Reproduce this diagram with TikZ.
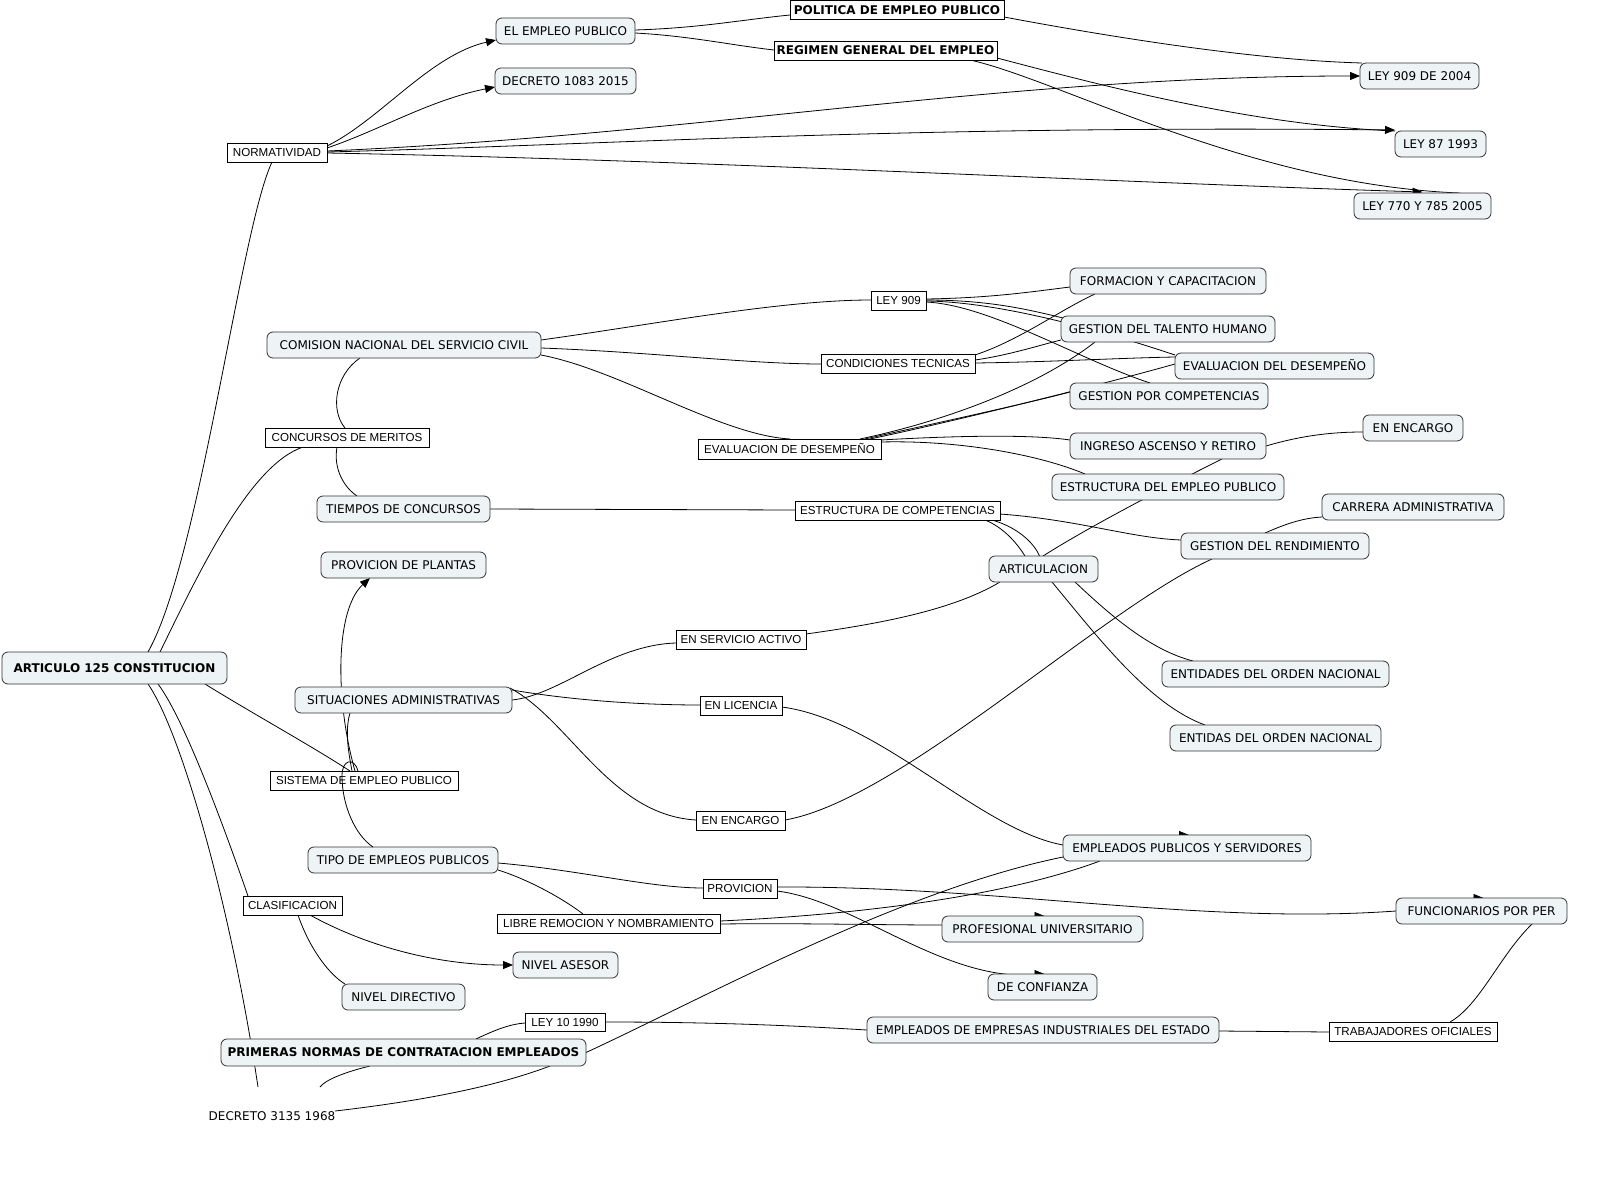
\documentclass[tikz,border=0pt]{standalone}
\usepackage{fontspec}
\setmainfont{DejaVu Sans}
\newfontfamily\lfont{Liberation Sans}
\usetikzlibrary{calc,arrows.meta,backgrounds}
\definecolor{cfill}{HTML}{EEF3F5}
\definecolor{cline}{HTML}{333333}
\tikzset{
 concept/.style={draw=cline, fill=cfill, rounded corners=6pt, line width=0.8pt, minimum height=26pt, inner sep=0pt, outer sep=0pt, font=\fontsize{12}{14}\selectfont, text height=8.75pt, text depth=0pt},
 bconcept/.style={concept, minimum height=32pt, font=\fontsize{12}{14}\selectfont\bfseries},
 link/.style={draw=black, fill=white, line width=0.8pt, minimum height=19pt, inner sep=0pt, outer sep=0pt, font=\lfont\fontsize{11.6}{13}\selectfont, text height=8.3pt, text depth=0pt},
 blink/.style={link, font=\fontsize{12}{14}\selectfont\bfseries, text height=8.75pt},
 conn/.style={draw=black, line width=0.8pt},
 arr/.style={conn, -{Triangle[length=10pt,width=8pt]}},
}
\begin{document}
\begin{tikzpicture}[x=1pt,y=-1pt]
\useasboundingbox (0,0) rectangle (1608,1177);
% concepts
\node[concept, minimum width=139] (emp) at (565.5,31) {EL EMPLEO PUBLICO};
\node[concept, minimum width=141] (dec1083) at (565.5,81) {DECRETO 1083 2015};
\node[concept, minimum width=119] (l9092004) at (1419.5,76) {LEY 909 DE 2004};
\node[concept, minimum width=91] (l87) at (1440.5,144) {LEY 87 1993};
\node[concept, minimum width=137] (l770) at (1422.5,206) {LEY 770 Y 785 2005};
\node[concept, minimum width=274] (com) at (404,345) {COMISION NACIONAL DEL SERVICIO CIVIL};
\node[concept, minimum width=173] (tiem) at (403.5,509) {TIEMPOS DE CONCURSOS};
\node[concept, minimum width=165] (prov) at (403.5,565) {PROVICION DE PLANTAS};
\node[concept, minimum width=196] (form) at (1168,281) {FORMACION Y CAPACITACION};
\node[concept, minimum width=214] (tal) at (1168,329) {GESTION DEL TALENTO HUMANO};
\node[concept, minimum width=199] (evd) at (1274.5,366) {EVALUACION DEL DESEMPEÑO};
\node[concept, minimum width=198] (gpc) at (1169,396) {GESTION POR COMPETENCIAS};
\node[concept, minimum width=196] (ing) at (1168,446) {INGRESO ASCENSO Y RETIRO};
\node[concept, minimum width=100] (enc1) at (1413,428) {EN ENCARGO};
\node[concept, minimum width=232] (eep) at (1168,487) {ESTRUCTURA DEL EMPLEO PUBLICO};
\node[concept, minimum width=182] (car) at (1413,507) {CARRERA ADMINISTRATIVA};
\node[concept, minimum width=188] (ren) at (1275,546) {GESTION DEL RENDIMIENTO};
\node[concept, minimum width=109] (art2) at (1043.5,569) {ARTICULACION};
\node[bconcept, minimum width=225] (art) at (114.5,668) {ARTICULO 125 CONSTITUCION};
\node[concept, minimum width=217] (sit) at (403.5,700) {SITUACIONES ADMINISTRATIVAS};
\node[concept, minimum width=227] (ent1) at (1275.5,674) {ENTIDADES DEL ORDEN NACIONAL};
\node[concept, minimum width=211] (ent2) at (1275.5,738) {ENTIDAS DEL ORDEN NACIONAL};
\node[concept, minimum width=248] (eps) at (1187,848) {EMPLEADOS PUBLICOS Y SERVIDORES};
\node[concept, minimum width=190] (tip) at (403,860) {TIPO DE EMPLEOS PUBLICOS};
\node[concept, minimum width=171] (fun) at (1481.5,911) {FUNCIONARIOS POR PER};
\node[concept, minimum width=201] (pro) at (1042.5,929) {PROFESIONAL UNIVERSITARIO};
\node[concept, minimum width=105] (ase) at (565.5,965) {NIVEL ASESOR};
\node[concept, minimum width=109] (con) at (1042.5,987) {DE CONFIANZA};
\node[concept, minimum width=123] (dir) at (403.5,997) {NIVEL DIRECTIVO};
\node[concept, minimum width=352] (emi) at (1043,1030) {EMPLEADOS DE EMPRESAS INDUSTRIALES DEL ESTADO};
\node[bconcept, minimum width=365, minimum height=27] (pri) at (403.5,1052.5) {PRIMERAS NORMAS DE CONTRATACION EMPLEADOS};
\node[minimum width=140, minimum height=58, inner sep=0pt, font=\fontsize{12}{14}\selectfont, text height=8.75pt, text depth=0pt] (dec3) at (272,1116) {DECRETO 3135 1968};
% linking phrases
\node[blink, minimum width=214] (pol) at (897,10) {POLITICA DE EMPLEO PUBLICO};
\node[blink, minimum width=223] (reg) at (885.5,50.5) {REGIMEN GENERAL DEL EMPLEO};
\node[link, minimum width=100] (norm) at (277,152.5) {NORMATIVIDAD};
\node[link, minimum width=55] (l909) at (898.5,300.5) {LEY 909};
\node[link, minimum width=154] (cond) at (898,363.5) {CONDICIONES TECNICAS};
\node[link, minimum width=183, minimum height=20] (evs) at (789.5,449) {EVALUACION DE DESEMPEÑO};
\node[link, minimum width=164] (cm) at (347,437.5) {CONCURSOS DE MERITOS};
\node[link, minimum width=205] (ecomp) at (897.5,510.5) {ESTRUCTURA DE COMPETENCIAS};
\node[link, minimum width=130] (esa) at (741,639.5) {EN SERVICIO ACTIVO};
\node[link, minimum width=82] (lic) at (741,705.5) {EN LICENCIA};
\node[link, minimum width=188] (sis) at (364,780.5) {SISTEMA DE EMPLEO PUBLICO};
\node[link, minimum width=89] (enc2) at (740.5,820.5) {EN ENCARGO};
\node[link, minimum width=74] (pv) at (740,888.5) {PROVICION};
\node[link, minimum width=99] (cla) at (292.5,905.5) {CLASIFICACION};
\node[link, minimum width=223] (lib) at (608.5,923.5) {LIBRE REMOCION Y NOMBRAMIENTO};
\node[link, minimum width=80, minimum height=18] (l10) at (565,1022) {LEY 10 1990};
\node[link, minimum width=168] (tra) at (1413,1031.5) {TRABAJADORES OFICIALES};
\begin{scope}[on background layer]
\fill[white] (0,0) rectangle (1608,1177);
% ARTICULO
\draw[conn] ($(art)+(33.5,-16)$) .. controls (200,560) and (240,230) .. ($(norm)+(-5,9.5)$);
\draw[conn] ($(art)+(45.5,-16)$) .. controls (200,570) and (250,465) .. ($(cm)+(-44,9.5)$);
\draw[conn] ($(art)+(90.5,16)$) .. controls (250,712) and (310,745) .. ($(sis)+(-14,-9.5)$);
\draw[conn] ($(art)+(43.5,16)$) .. controls (185,720) and (225,830) .. ($(cla)+(-44.5,-9.5)$);
\draw[conn] ($(art)+(33.5,16)$) .. controls (180,730) and (230,900) .. ($(dec3)+(-14,-29)$);
% NORMATIVIDAD
\draw[arr] ($(norm)+(50,-6.5)$) .. controls (380,120) and (430,55) .. ($(emp)+(-69.5,9)$);
\draw[arr] ($(norm)+(50,-4.5)$) .. controls (380,130) and (430,100) .. ($(dec1083)+(-70.5,6)$);
\draw[arr] ($(norm)+(50,-1.5)$) .. controls (700,135) and (1000,76) .. ($(l9092004)+(-59.5,0)$);
\draw[arr] ($(norm)+(50,-0.5)$) .. controls (600,145) and (900,125) .. ($(l87)+(-45.5,-14)$);
\draw[arr] ($(norm)+(50,0.5)$) .. controls (700,160) and (1100,182) .. ($(l770)+(0,-14)$);
% EL EMPLEO PUBLICO
\draw[conn] ($(emp)+(69.5,-1)$) .. controls (700,28) and (740,20) .. ($(pol)+(-107,5)$);
\draw[conn] ($(emp)+(69.5,2)$) .. controls (690,36) and (730,45) .. ($(reg)+(-111.5,-0.5)$);
\draw[conn] ($(pol)+(107,7)$) .. controls (1100,35) and (1250,60) .. ($(l9092004)+(-57.5,-13)$);
\draw[conn] ($(reg)+(111.5,7.5)$) .. controls (1100,85) and (1250,125) .. ($(l87)+(-45.5,-13)$);
\draw[conn] ($(reg)+(84.5,9.5)$) .. controls (1060,80) and (1250,185) .. ($(l770)+(37.5,-13)$);
% COMISION
\draw[conn] ($(com)+(137,-5)$) .. controls (650,325) and (780,300) .. ($(l909)+(-27.5,-0.5)$);
\draw[conn] ($(com)+(137,3)$) .. controls (650,352) and (750,364) .. ($(cond)+(-77,0.5)$);
\draw[conn] ($(com)+(137,10)$) .. controls (620,370) and (720,435) .. ($(evs)+(0.5,-10)$);
\draw[conn] ($(com)+(-44,13)$) .. controls (335,375) and (330,410) .. ($(cm)+(-2,-9.5)$);
\draw[conn] ($(cm)+(-10,9.5)$) .. controls (333,470) and (345,488) .. ($(tiem)+(-46.5,-13)$);
% LEY 909
\draw[conn] ($(l909)+(27.5,-1.5)$) .. controls (990,298) and (1030,292) .. ($(form)+(-98,6)$);
\draw[conn] ($(l909)+(27.5,-0.5)$) .. controls (990,300) and (1030,310) .. ($(tal)+(-105,-11)$);
\draw[conn] ($(l909)+(27.5,0.5)$) .. controls (1000,302) and (1100,330) .. ($(evd)+(-99.5,-11)$);
\draw[conn] ($(l909)+(27.5,1.5)$) .. controls (990,305) and (1080,360) .. ($(gpc)+(-19,-13)$);
% CONDICIONES TECNICAS
\draw[conn] ($(cond)+(77,-8.5)$) .. controls (1020,340) and (1060,310) .. ($(form)+(-73,13)$);
\draw[conn] ($(cond)+(77,-3.5)$) .. controls (1010,355) and (1040,345) .. ($(tal)+(-107,11)$);
\draw[conn] ($(cond)+(77,-0.5)$) .. controls (1050,362) and (1120,358) .. ($(evd)+(-99.5,-9)$);
% EVALUACION DE DESEMPENO
\draw[conn] ($(evs)+(70.5,-10)$) .. controls (950,420) and (1040,385) .. ($(tal)+(-73,13)$);
\draw[conn] ($(evs)+(75.5,-10)$) .. controls (950,420) and (1020,405) .. ($(gpc)+(-99,-4)$);
\draw[conn] ($(evs)+(80.5,-10)$) .. controls (960,420) and (1100,385) .. ($(evd)+(-99.5,-2)$);
\draw[conn] ($(evs)+(91.5,-9)$) .. controls (950,436) and (1030,434) .. ($(ing)+(-98,-6)$);
\draw[conn] ($(evs)+(91.5,-7)$) .. controls (960,440) and (1040,455) .. ($(eep)+(-83,-13)$);
\draw[conn] ($(ing)+(98,0)$) .. controls (1300,436) and (1330,432) .. ($(enc1)+(-50,4)$);
\draw[conn] ($(art2)+(-0.5,-13)$) .. controls (1100,520) and (1190,475) .. ($(ing)+(54,13)$);
% ESTRUCTURA DE COMPETENCIAS
\draw[conn] ($(tiem)+(86.5,0)$) -- ($(ecomp)+(-102.5,-0.5)$);
\draw[conn] ($(ecomp)+(102.5,3.5)$) .. controls (1080,520) and (1130,538) .. ($(ren)+(-94,-6)$);
\draw[conn] ($(ecomp)+(87.5,9.5)$) .. controls (1005,528) and (1018,545) .. ($(art2)+(-18.5,-13)$);
\draw[conn] ($(ecomp)+(94.5,9.5)$) .. controls (1020,528) and (1035,545) .. ($(art2)+(-4,-13)$);
% ARTICULACION
\draw[conn] ($(art2)+(31.5,13)$) .. controls (1110,615) and (1150,650) .. ($(ent1)+(-82.5,-13)$);
\draw[conn] ($(art2)+(8.5,13)$) .. controls (1100,640) and (1150,705) .. ($(ent2)+(-70.5,-13)$);
\draw[conn] ($(art2)+(-43.5,13)$) .. controls (950,612) and (870,625) .. ($(esa)+(65,-5.5)$);
% SITUACIONES
\draw[conn] ($(sit)+(108.5,0)$) .. controls (560,695) and (610,645) .. ($(esa)+(-65,3.5)$);
\draw[conn] ($(sit)+(108.5,-10)$) .. controls (570,700) and (640,705) .. ($(lic)+(-41,-0.5)$);
\draw[conn] ($(sit)+(106.5,-12)$) .. controls (570,720) and (610,815) .. ($(enc2)+(-44.5,-0.5)$);
% SISTEMA
\draw[arr] ($(sis)+(-9,-9.5)$) .. controls (335,700) and (335,610) .. ($(prov)+(-33.5,13)$);
\draw[conn] ($(sis)+(-12,-9.5)$) .. controls (348,750) and (345,730) .. ($(sit)+(-53.5,13)$);
% TIPO
\draw[conn] ($(tip)+(95,3)$) .. controls (580,870) and (650,888) .. ($(pv)+(-37,-0.5)$);
\draw[conn] ($(tip)+(95,10)$) .. controls (530,880) and (565,900) .. ($(lib)+(-25.5,-9.5)$);
\draw[conn] ($(pv)+(37,-1.5)$) .. controls (1000,886) and (1200,925) .. ($(fun)+(-85.5,0)$);
\draw[conn] ($(pv)+(37,2.5)$) .. controls (850,900) and (930,970) .. ($(con)+(-27.5,-12)$);
\draw[conn] ($(lib)+(111.5,-2.5)$) .. controls (850,915) and (1000,898) .. ($(eps)+(-87,13)$);
\draw[conn] ($(lib)+(111.5,0.5)$) .. controls (800,923) and (880,925) .. ($(pro)+(-100.5,-4)$);
\draw[conn] ($(pri)+(182.5,0)$) .. controls (700,1000) and (900,890) .. ($(eps)+(-124,9)$);
\draw[conn] ($(lic)+(41,1.5)$) .. controls (880,720) and (980,830) .. ($(eps)+(-124,-3)$);
\draw[conn] ($(enc2)+(44.5,-0.5)$) .. controls (900,800) and (1100,610) .. ($(ren)+(-63,13)$);
\draw[conn] ($(ren)+(-10,-13)$) .. controls (1290,522) and (1305,518) .. ($(car)+(-91,10)$);
% CLASIFICACION
\draw[arr] ($(cla)+(17.5,9.5)$) .. controls (370,948) and (440,965) .. ($(ase)+(-52.5,0)$);
\draw[conn] ($(cla)+(5.5,9.5)$) .. controls (310,950) and (330,975) .. ($(dir)+(-58.5,-13)$);
% PRIMERAS NORMAS
\draw[conn] ($(pri)+(72.5,-13.5)$) .. controls (495,1030) and (510,1024) .. ($(l10)+(-40,1)$);
\draw[conn] ($(l10)+(40,0)$) .. controls (720,1022) and (800,1026) .. ($(emi)+(-176,0)$);
\draw[conn] ($(emi)+(176,1)$) -- ($(tra)+(-84,0.5)$);
\draw[conn] ($(tra)+(37,-9.5)$) .. controls (1480,1005) and (1500,955) .. ($(fun)+(50.5,13)$);
\draw[conn] ($(pri)+(-33.5,13.5)$) .. controls (345,1072) and (325,1080) .. ($(dec3)+(48,-29)$);
\draw[conn] ($(dec3)+(63,-5)$) .. controls (430,1100) and (500,1085) .. ($(pri)+(146.5,13.5)$);
% dangling arrow heads
\draw[arr] ($(eps.north)+(-12,0)$) -- ($(eps.north)+(2,0)$);
\draw[arr] ($(pro.north)+(-12,0)$) -- ($(pro.north)+(2,0)$);
\draw[arr] ($(con.north)+(-12,0)$) -- ($(con.north)+(2,0)$);
\draw[arr] ($(fun.north)+(-12,0)$) -- ($(fun.north)+(2,0)$);
\end{scope}
% loop from SISTEMA to TIPO, drawn over the box
\draw[conn] ($(sis)+(-6,-9.5)$) .. controls (355,758) and (342,758) .. (342,776) .. controls (342,805) and (355,835) .. ($(tip)+(-30,-13)$);
\end{tikzpicture}
\end{document}
